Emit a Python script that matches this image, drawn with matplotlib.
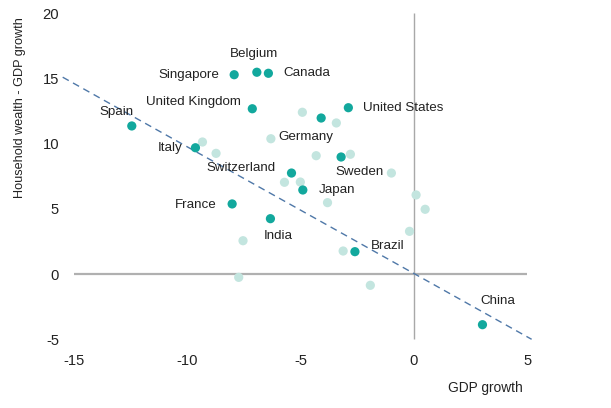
import matplotlib
matplotlib.use("Agg")
import matplotlib.pyplot as plt

plt.rcParams['font.family'] = ['Liberation Sans', 'DejaVu Sans']

# Labelled countries (dark points)
countries = ["Singapore", "Belgium", "Canada", "United Kingdom", "United States",
             "Germany", "Spain", "Italy", "Sweden", "Switzerland", "Japan",
             "France", "India", "Brazil", "China"]
gdp_dark = [-7.93, -6.93, -6.42, -7.13, -2.89, -4.09, -12.45, -9.64, -3.21,
            -5.40, -4.90, -8.02, -6.33, -2.60, 3.03]
hw_dark = [15.29, 15.48, 15.40, 12.68, 12.76, 11.97, 11.36, 9.69, 8.98,
           7.75, 6.45, 5.38, 4.25, 1.72, -3.88]

# Other (unlabelled) countries
gdp_light = [-4.92, -3.42, -9.33, -8.73, -6.31, -4.31, -2.80, -0.99, -5.71,
             -5.01, -3.81, 0.10, 0.50, -0.19, -7.54, -3.12, -7.73, -1.92]
hw_light = [12.41, 11.59, 10.13, 9.26, 10.38, 9.08, 9.19, 7.75, 7.04,
            7.06, 5.48, 6.07, 4.97, 3.28, 2.56, 1.77, -0.25, -0.86]

# Trend line end points
trend_x = [-15.5, 5.2]
trend_y = [15.1, -5.0]

x_ticks = [-15, -10, -5, 0, 5]
y_ticks = [-5, 0, 5, 10, 15, 20]

# label offsets in points (dx, dy, ha, va)
offsets = {
    "Singapore": (-11, 0, "right", "center"),
    "Belgium": (-2, 13, "center", "center"),
    "Canada": (10.5, 0, "left", "center"),
    "United Kingdom": (-8.4, 5, "right", "center"),
    "United States": (10.8, 0, "left", "center"),
    "Germany": (-30.7, -13.5, "left", "center"),
    "Spain": (1, 10, "right", "center"),
    "Italy": (-9, 0, "right", "center"),
    "Sweden": (-4.3, -10.8, "left", "center"),
    "Switzerland": (-11.7, 3.8, "right", "center"),
    "Japan": (11.2, 0, "left", "center"),
    "France": (-11.5, -0.7, "right", "center"),
    "India": (5.5, -12.7, "center", "center"),
    "Brazil": (11.7, 4.3, "left", "center"),
    "China": (-1.7, 17, "left", "center"),
}

DARK = "#12A89D"
LIGHT = "#C3E5DF"

fig = plt.figure(figsize=(6.11, 4.08), dpi=100)
ax = fig.add_axes([0.0989, 0.1652, 0.7786, 0.8054])
ax.set_xlim(-15.6, 5.4)
ax.set_ylim(-5.1, 20.1)
for s in ax.spines.values():
    s.set_visible(False)

ax.hlines(0, x_ticks[0], x_ticks[-1], color="#B0B0B0", lw=1.6, zorder=1)
ax.vlines(0, y_ticks[0], y_ticks[-1], color="#A8A8A8", lw=1.0, zorder=1)

ax.plot(trend_x, trend_y, color="#4F78A8", lw=1.0, ls=(0, (5, 3.5)), zorder=2)

ax.scatter(gdp_light, hw_light, s=44, color=LIGHT, edgecolors="none", zorder=3)
ax.scatter(gdp_dark, hw_dark, s=44, color=DARK, edgecolors="none", zorder=4)

for name, gx, hy in zip(countries, gdp_dark, hw_dark):
    dx, dy, ha, va = offsets[name]
    ax.annotate(name, (gx, hy), xytext=(dx, dy), textcoords="offset points",
                ha=ha, va=va, fontsize=9.6, color="#222222", zorder=5)

ax.set_xticks(x_ticks)
ax.set_yticks(y_ticks)
ax.set_xticklabels([str(v) for v in x_ticks])
ax.set_yticklabels([str(v) for v in y_ticks])
ax.tick_params(axis="both", length=0, labelsize=10.6, colors="#222222")
ax.tick_params(axis="x", pad=10)
ax.tick_params(axis="y", pad=1)

fig.text(523 / 611, 1 - 388 / 408, "GDP growth", ha="right", va="center",
         fontsize=9.9, color="#222222")
fig.text(20 / 611, 1 - 17 / 408, "Household wealth - GDP growth", rotation=90,
         ha="center", va="top", fontsize=9.1, color="#222222")

fig.savefig("out.png", dpi=100, facecolor="white")
